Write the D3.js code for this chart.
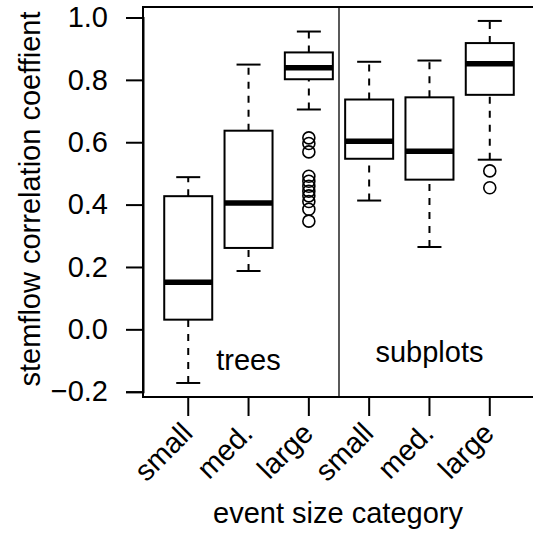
<!DOCTYPE html>
<html>
<head>
<meta charset="utf-8">
<script src="https://cdn.jsdelivr.net/npm/d3@7"></script>
<style>
  body { margin: 0; background: #fff; }
  svg text { font-family: "Liberation Sans", Arial, Helvetica, sans-serif; fill: #000; }
</style>
</head>
<body>
<svg width="533" height="537"></svg>
<script>
// boxplot summaries (trees x3, subplots x3)
var labels   = ['small', 'med.', 'large', 'small', 'med.', 'large']
var lowWhisk = [-0.172, 0.187, 0.705, 0.413, 0.264, 0.544]
var q1       = [0.031, 0.261, 0.802, 0.547, 0.480, 0.752]
var medians  = [0.151, 0.405, 0.839, 0.603, 0.571, 0.852]
var q3       = [0.427, 0.637, 0.888, 0.737, 0.744, 0.918]
var hiWhisk  = [0.488, 0.849, 0.955, 0.858, 0.862, 0.989]
var outliers = [[], [],
  [0.614, 0.596, 0.569, 0.491, 0.475, 0.459, 0.443, 0.428, 0.410, 0.385, 0.347],
  [], [], [0.508, 0.454]]
var yTicks = [-0.2, 0, 0.2, 0.4, 0.6, 0.8, 1.0]
var groupNames = ['trees', 'subplots']

var svg = d3.select('svg')

// layout
var frameLeft = 143, frameTop = 7, frameBottom = 397
var x = d3.scaleLinear().domain([0.25, 6.75]).range([143, 535])
var y = d3.scaleLinear().domain([-0.2, 1.0]).range([391.7, 17.5])
var boxW = 48, capW = 24

// frame (right side falls outside the window)
svg.append('path')
  .attr('d', 'M' + x(6.75) + ',' + frameTop + 'H' + frameLeft + 'V' + frameBottom + 'H' + x(6.75))
  .attr('fill', 'none').attr('stroke', '#000').attr('stroke-width', 2)

// divider between trees and subplots
svg.append('line')
  .attr('x1', x(3.5)).attr('x2', x(3.5))
  .attr('y1', frameTop).attr('y2', frameBottom)
  .attr('stroke', '#000').attr('stroke-width', 1.3)

// y axis
var yAxis = svg.append('g').attr('transform', 'translate(' + frameLeft + ',0)')
  .call(d3.axisLeft(y).tickValues(yTicks).tickSize(17).tickPadding(18)
    .tickFormat(function(d){ return d3.format('.1f')(d).replace('-', '\u2212') }))
yAxis.select('.domain').attr('stroke-width', 2)
yAxis.selectAll('.tick line').attr('stroke-width', 2)
yAxis.selectAll('.tick text').style('font-size', '29px')

// x ticks
var idx = d3.range(6)
svg.selectAll('.xtick').data(idx).enter().append('line')
  .attr('x1', function(i){ return x(i + 1) }).attr('x2', function(i){ return x(i + 1) })
  .attr('y1', frameBottom).attr('y2', 416)
  .attr('stroke', '#000').attr('stroke-width', 2)

svg.selectAll('.xlab').data(idx).enter().append('text')
  .attr('transform', function(i){ return 'translate(' + (x(i + 1) + 6) + ',435) rotate(-45)' })
  .attr('text-anchor', 'end')
  .style('font-size', '29px')
  .text(function(i){ return labels[i] })

// boxes
var boxes = svg.selectAll('.box').data(idx).enter().append('g')

boxes.append('line') // lower whisker
  .attr('x1', function(i){ return x(i + 1) }).attr('x2', function(i){ return x(i + 1) })
  .attr('y1', function(i){ return y(lowWhisk[i]) }).attr('y2', function(i){ return y(q1[i]) })
  .attr('stroke', '#000').attr('stroke-width', 2).attr('stroke-dasharray', '7,7')
boxes.append('line') // upper whisker
  .attr('x1', function(i){ return x(i + 1) }).attr('x2', function(i){ return x(i + 1) })
  .attr('y1', function(i){ return y(q3[i]) }).attr('y2', function(i){ return y(hiWhisk[i]) })
  .attr('stroke', '#000').attr('stroke-width', 2).attr('stroke-dasharray', '7,7')

boxes.append('line')
  .attr('x1', function(i){ return x(i + 1) - capW / 2 }).attr('x2', function(i){ return x(i + 1) + capW / 2 })
  .attr('y1', function(i){ return y(lowWhisk[i]) }).attr('y2', function(i){ return y(lowWhisk[i]) })
  .attr('stroke', '#000').attr('stroke-width', 2)
boxes.append('line')
  .attr('x1', function(i){ return x(i + 1) - capW / 2 }).attr('x2', function(i){ return x(i + 1) + capW / 2 })
  .attr('y1', function(i){ return y(hiWhisk[i]) }).attr('y2', function(i){ return y(hiWhisk[i]) })
  .attr('stroke', '#000').attr('stroke-width', 2)

boxes.append('rect')
  .attr('x', function(i){ return x(i + 1) - boxW / 2 })
  .attr('width', boxW)
  .attr('y', function(i){ return y(q3[i]) })
  .attr('height', function(i){ return y(q1[i]) - y(q3[i]) })
  .attr('fill', '#fff').attr('stroke', '#000').attr('stroke-width', 2)

boxes.append('line')
  .attr('x1', function(i){ return x(i + 1) - boxW / 2 }).attr('x2', function(i){ return x(i + 1) + boxW / 2 })
  .attr('y1', function(i){ return y(medians[i]) }).attr('y2', function(i){ return y(medians[i]) })
  .attr('stroke', '#000').attr('stroke-width', 5.5)

// outliers
boxes.each(function(i){
  d3.select(this).selectAll('circle').data(outliers[i]).enter().append('circle')
    .attr('cx', x(i + 1)).attr('cy', function(d){ return y(d) })
    .attr('r', 6).attr('fill', 'none').attr('stroke', '#000').attr('stroke-width', 1.6)
})

// group labels
svg.append('text').attr('x', x(2)).attr('y', 370).attr('text-anchor', 'middle')
  .style('font-size', '29px').text(groupNames[0])
svg.append('text').attr('x', x(5)).attr('y', 362).attr('text-anchor', 'middle')
  .style('font-size', '29px').text(groupNames[1])

// axis titles
svg.append('text').attr('x', 338).attr('y', 523).attr('text-anchor', 'middle')
  .style('font-size', '29px').text('event size category')
svg.append('text').attr('transform', 'translate(40,199) rotate(-90)').attr('text-anchor', 'middle')
  .style('font-size', '29px').text('stemflow correlation coeffient')
</script>
</body>
</html>
